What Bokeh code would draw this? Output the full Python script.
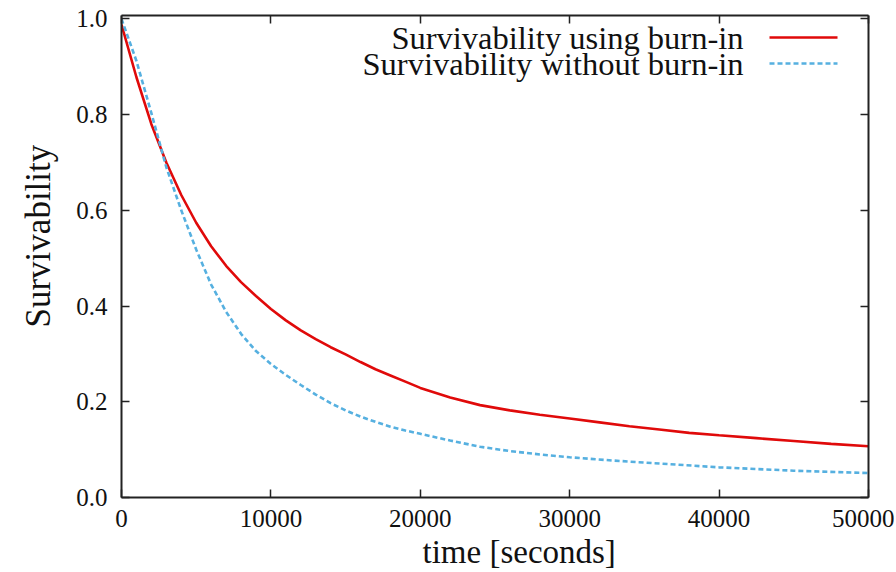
from bokeh.plotting import figure
from bokeh.models import Range1d, LinearAxis, FixedTicker, PrintfTickFormatter, Label, Arrow, Title
from bokeh.embed import file_html
from bokeh.resources import INLINE

# --- data ---
time_burnin = [0, 1000, 2000, 3000, 4000, 5000, 6000, 7000, 8000, 9000, 10000,
               11000, 12000, 13000, 14000, 15000, 16000, 17000, 18000, 19000, 20000,
               22000, 24000, 26000, 28000, 30000, 32000, 34000, 36000, 38000, 40000,
               42500, 45000, 47500, 50000]
surv_burnin = [0.988, 0.878, 0.780, 0.700, 0.632, 0.574, 0.525, 0.484, 0.450, 0.421, 0.394,
               0.370, 0.349, 0.331, 0.314, 0.299, 0.283, 0.268, 0.255, 0.242, 0.229,
               0.209, 0.193, 0.182, 0.173, 0.165, 0.157, 0.149, 0.142, 0.135, 0.130,
               0.124, 0.118, 0.112, 0.107]

time_noburn = [0, 1000, 2000, 3000, 4000, 5000, 6000, 7000, 8000, 9000, 10000,
               11000, 12000, 13000, 14000, 15000, 16000, 17000, 18000, 19000, 20000,
               22000, 24000, 26000, 28000, 30000, 33000, 36000, 40000, 45000, 50000]
surv_noburn = [1.000, 0.912, 0.803, 0.690, 0.600, 0.518, 0.445, 0.388, 0.342, 0.306, 0.279,
               0.256, 0.235, 0.215, 0.197, 0.182, 0.169, 0.158, 0.148, 0.140, 0.133,
               0.119, 0.106, 0.097, 0.090, 0.084, 0.077, 0.071, 0.063, 0.056, 0.051]

x_ticks = [0, 10000, 20000, 30000, 40000, 50000]
y_ticks = [0.0, 0.2, 0.4, 0.6, 0.8, 1.0]
series_names = ["Survivability using burn-in", "Survivability without burn-in"]
series_colors = ["#e00a0a", "#56b0e0"]
x_title = "time [seconds]"
y_title = "Survivability"

FONT = "'Liberation Serif', 'Times New Roman', Times, 'DejaVu Serif', serif"
AXC = "#222222"
TXT = "#111111"

p = figure(frame_width=747, frame_height=482, output_backend="svg", toolbar_location=None,
           x_range=Range1d(0, 50000), y_range=Range1d(0, 1.007),
           min_border_left=121, min_border_right=26, min_border_top=15, min_border_bottom=74)
p.outline_line_color = None
p.grid.visible = False
p.background_fill_color = "white"
p.border_fill_color = "white"

p.line(time_burnin, surv_burnin, line_color=series_colors[0], line_width=2.6)
p.line(time_noburn, surv_noburn, line_color=series_colors[1], line_width=2.6, line_dash="5 3")

def style(ax, ticks, labels=True):
    ax.ticker = FixedTicker(ticks=ticks)
    ax.axis_line_color = AXC
    ax.axis_line_width = 2
    ax.major_tick_line_color = AXC
    ax.major_tick_line_width = 1.5
    ax.major_tick_in = 8
    ax.major_tick_out = 0
    ax.minor_tick_line_color = None
    ax.major_label_text_font = FONT
    ax.major_label_text_color = TXT
    ax.major_label_text_font_size = "25px"
    ax.axis_label = None
    if not labels:
        ax.major_label_text_font_size = "1px"
        ax.major_label_text_color = None
        ax.major_label_standoff = 0

xa = p.xaxis[0]
style(xa, x_ticks)
xa.major_label_standoff = 12

ya = p.yaxis[0]
style(ya, y_ticks)
ya.formatter = PrintfTickFormatter(format="%.1f")
ya.major_label_standoff = 14

top = LinearAxis()
style(top, x_ticks, labels=False)
p.add_layout(top, "above")
right = LinearAxis()
style(right, y_ticks, labels=False)
p.add_layout(right, "right")

# axis titles as side titles (shifted like in the reference)
p.add_layout(Title(text=x_title, align="left", offset=301, standoff=4,
                   text_font=FONT, text_font_size="33px", text_font_style="normal",
                   text_color=TXT), "below")
p.add_layout(Title(text=y_title, align="left", offset=170, standoff=31,
                   text_font=FONT, text_font_size="35px", text_font_style="normal",
                   text_color=TXT), "left")

# legend: text right-aligned, sample line to its right (gnuplot style)
rows = [460, 434]
for name, col, yy, dash in zip(series_names, series_colors, rows, ["solid", "5 3"]):
    p.add_layout(Label(x=622, y=yy, x_units="screen", y_units="screen", text=name,
                       text_font=FONT, text_font_size="32.5px", text_align="right",
                       text_baseline="middle", text_color=TXT))
    p.add_layout(Arrow(end=None, start=None, x_start=648, y_start=yy, x_end=716, y_end=yy,
                       start_units="screen", end_units="screen",
                       line_color=col, line_width=2.6, line_dash=dash))

open("out.html", "w").write(file_html(p, INLINE))
